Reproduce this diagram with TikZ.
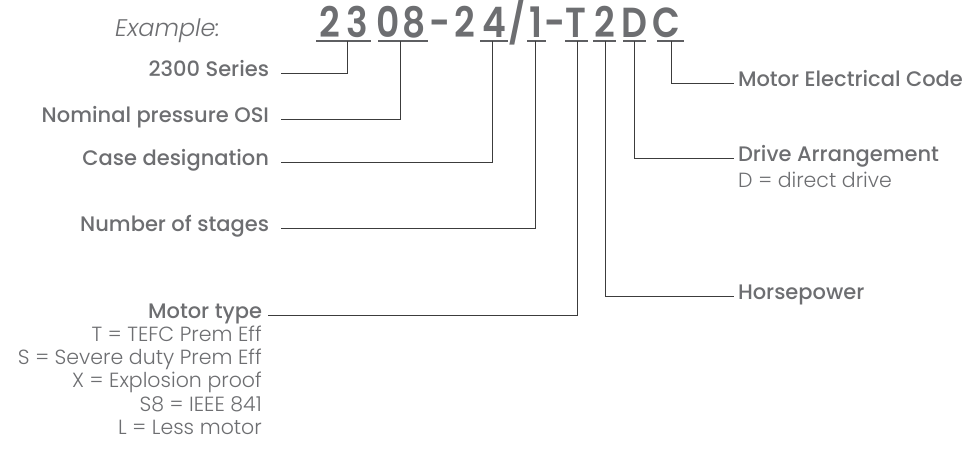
\documentclass[tikz,border=0pt]{standalone}
\usepackage{fontspec}
\setmainfont{Poppins}[UprightFont={* Light}, BoldFont={* Medium}, ItalicFont={* Light Italic}, BoldItalicFont={* Medium Italic}]
\newfontfamily\codefont{Poppins SemiBold}
\usepackage{graphicx}
\usepackage{tikz}
\usetikzlibrary{positioning}
\usepackage{xcolor}
\definecolor{txtgray}{HTML}{6D6E71}
\definecolor{linegray}{HTML}{3C3C3C}
\definecolor{ulgray}{HTML}{5E5F62}

\begin{document}
\begin{tikzpicture}[x=1pt, y=-1pt, every node/.style={inner sep=0pt, text=txtgray},
    codechar/.style={font=\fontsize{42}{42}\selectfont\codefont, anchor=base},
    leftlbl/.style={font=\fontsize{21}{24}\selectfont\bfseries, anchor=base east, outer xsep=12pt},
    rightlbl/.style={font=\fontsize{21}{24}\selectfont\bfseries, anchor=base west, outer xsep=4pt},
    desc/.style={font=\fontsize{20.5}{24}\selectfont},
    uline/.style={draw=ulgray, line width=1.4pt},
    conn/.style={draw=linegray, line width=0.9pt}]
    \useasboundingbox (0,0) rectangle (972,469);

    % Example code
    \node[font=\fontsize{24}{28}\selectfont\itshape, anchor=base west] (example) at (115,36) {Example:};
    \foreach \ch/\cx/\nm in {2/330/a, 3/357/b, 0/388/c, 8/414/d, -/440/e, 2/465/f, 4/494/g,
                             {\slash}/517/h, 1/536/i, -/555/j, T/576/k, 2/605/l, D/634/m, C/666/n}
        \node[codechar] (\nm) at (\cx,37) {\scalebox{0.86}[1]{\ch}};

    % Underlines
    \draw[uline] (316,41) -- (371,41);
    \draw[uline] (378,41) -- (428,41);
    \draw[uline] (480,41) -- (508,41);
    \draw[uline] (527,41) -- (546,41);
    \draw[uline] (565,41) -- (588,41);
    \draw[uline] (593,41) -- (616,41);
    \draw[uline] (623,41) -- (646,41);
    \draw[uline] (657,41) -- (684,41);

    % Tap points
    \coordinate (u1) at (347,41);
    \coordinate (u2) at (400,41);
    \coordinate (u3) at (492,41);
    \coordinate (u4) at (535,41);
    \coordinate (u5) at (577,41);
    \coordinate (u6) at (605,41);
    \coordinate (u7) at (634,41);
    \coordinate (u8) at (671,41);

    % Left labels
    \node[leftlbl] (series) at (281,76) {2300 Series};
    \node[leftlbl] (pressure) at (281,122) {Nominal pressure OSI};
    \node[leftlbl] (case) at (281,165) {Case designation};
    \node[leftlbl] (stages) at (281,231) {Number of stages};
    \node[leftlbl, outer xsep=6pt] (mtype) at (268,318) {Motor type};
    \foreach \t [count=\i] in {T = TEFC Prem Eff, S = Severe duty Prem Eff, X = Explosion proof,
                                S8 = IEEE 841, L = Less motor}
        \node[desc, anchor=base east] (mt\i) at (262,318+23.3*\i) {\t};

    \draw[conn] (series.mid east) -| (u1);
    \draw[conn] (pressure.mid east) -| (u2);
    \draw[conn] (case.mid east) -| (u3);
    \draw[conn] (stages.mid east) -| (u4);
    \draw[conn] (mtype.mid east) -| (u5);

    % Right labels
    \node[rightlbl] (elcode) at (734,86) {Motor Electrical Code};
    \node[rightlbl] (drive) at (734,161) {Drive Arrangement};
    \node[desc, anchor=base west] (ddesc) at (738,187) {D = direct drive};
    \node[rightlbl] (hp) at (734,299) {Horsepower};

    \draw[conn] (u6) |- (hp.mid west);
    \draw[conn] (u7) |- (drive.mid west);
    \draw[conn] (u8) |- (elcode.mid west);
\end{tikzpicture}
\end{document}
